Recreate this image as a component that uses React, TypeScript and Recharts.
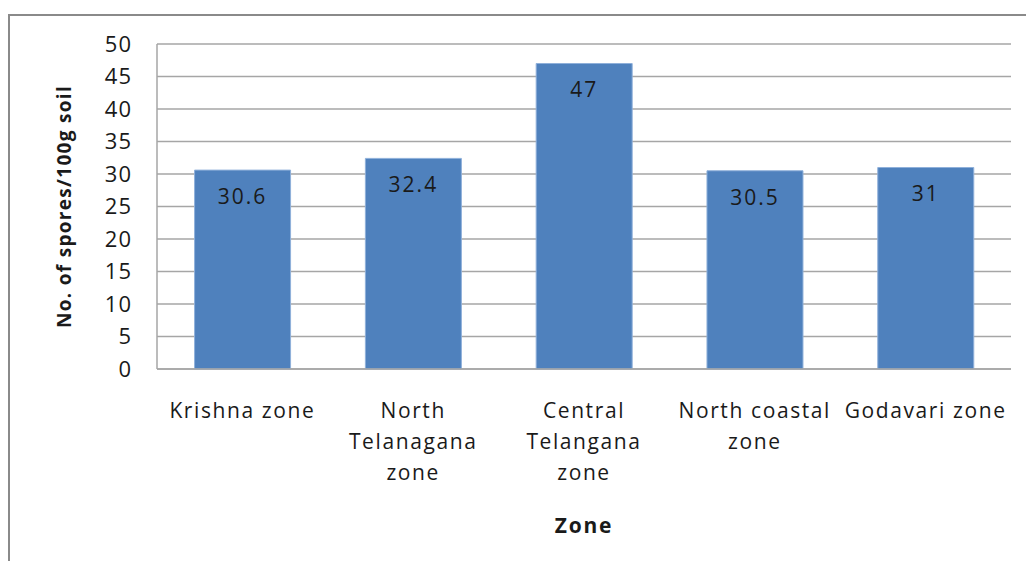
import React from 'react';
import { BarChart, Bar, XAxis, YAxis, CartesianGrid, LabelList, Label } from 'recharts';

// Zones and mean spore counts per 100 g soil
const zones = [
  'Krishna zone',
  'North\nTelanagana\nzone',
  'Central\nTelangana\nzone',
  'North coastal\nzone',
  'Godavari zone',
];
const spores = [30.6, 32.4, 47, 30.5, 31];
const yTicks = [0, 5, 10, 15, 20, 25, 30, 35, 40, 45, 50];

const data = zones.map((zone, i) => ({ zone, spores: spores[i] }));

const FONT = '"Open Sans", "Noto Sans", sans-serif';
const TEXT = '#1a1a1a';

const ZoneTick = (props: any) => {
  const { x, y, payload } = props;
  const lines = String(payload.value).split('\n');
  return (
    <text
      x={x}
      y={y}
      textAnchor="middle"
      fontFamily={FONT}
      fontSize={21}
      letterSpacing={1.6}
      fill={TEXT}
    >
      {lines.map((ln, i) => (
        <tspan key={i} x={x} dy={i === 0 ? 41 : 31}>
          {ln}
        </tspan>
      ))}
    </text>
  );
};

const YTitle = (props: any) => {
  const vb = props.viewBox || {};
  const cx = 64;
  const cy = (vb.y ?? 0) + (vb.height ?? 0) / 2;
  return (
    <text
      x={cx}
      y={cy}
      transform={`rotate(-90 ${cx} ${cy})`}
      textAnchor="middle"
      dominantBaseline="central"
      fontFamily={FONT}
      fontWeight="bold"
      fontSize={19}
      letterSpacing={1.3}
      fill={TEXT}
    >
      No. of spores/100g soil
    </text>
  );
};

export default function App() {
  return (
    <div style={{ position: 'absolute', left: 0, top: 0, width: 1026, height: 561, background: '#fff', overflow: 'hidden' }}>
      <div
        style={{
          position: 'absolute',
          left: 8,
          top: 14,
          width: 1100,
          height: 600,
          borderTop: '2px solid #8a8a8a',
          borderLeft: '2px solid #8a8a8a',
        }}
      />
      <div style={{ position: 'absolute', left: 0, top: 0 }}>
        <BarChart
          width={1026}
          height={561}
          data={data}
          margin={{ top: 44, right: 15, bottom: 0, left: 0 }}
          barCategoryGap="22%"
        >
          <CartesianGrid vertical={false} stroke="#a6a6a6" strokeWidth={1.5} />
          <XAxis
            dataKey="zone"
            height={192}
            tickLine={false}
            axisLine={{ stroke: '#a6a6a6', strokeWidth: 1.5 }}
            tick={<ZoneTick />}
            interval={0}
          >
            <Label
              value="Zone"
              position="insideBottom"
              offset={28}
              style={{ fontFamily: FONT, fontWeight: 'bold', fontSize: 21, letterSpacing: 1.8, fill: TEXT }}
            />
          </XAxis>
          <YAxis
            width={157}
            domain={[0, 50]}
            ticks={yTicks}
            interval={0}
            tickLine={false}
            tickSize={0}
            tickMargin={25}
            axisLine={{ stroke: '#a6a6a6', strokeWidth: 1.5 }}
            tick={{ fontFamily: FONT, fontSize: 22, letterSpacing: 1, fill: TEXT }}
          >
            <Label content={<YTitle />} />
          </YAxis>
          <Bar dataKey="spores" fill="#4f81bd" stroke="#8fb0da" strokeWidth={1} isAnimationActive={false}>
            <LabelList
              dataKey="spores"
              position="insideTop"
              offset={19}
              style={{ fontFamily: FONT, fontSize: 21, letterSpacing: 2, fill: TEXT }}
            />
          </Bar>
        </BarChart>
      </div>
    </div>
  );
}
